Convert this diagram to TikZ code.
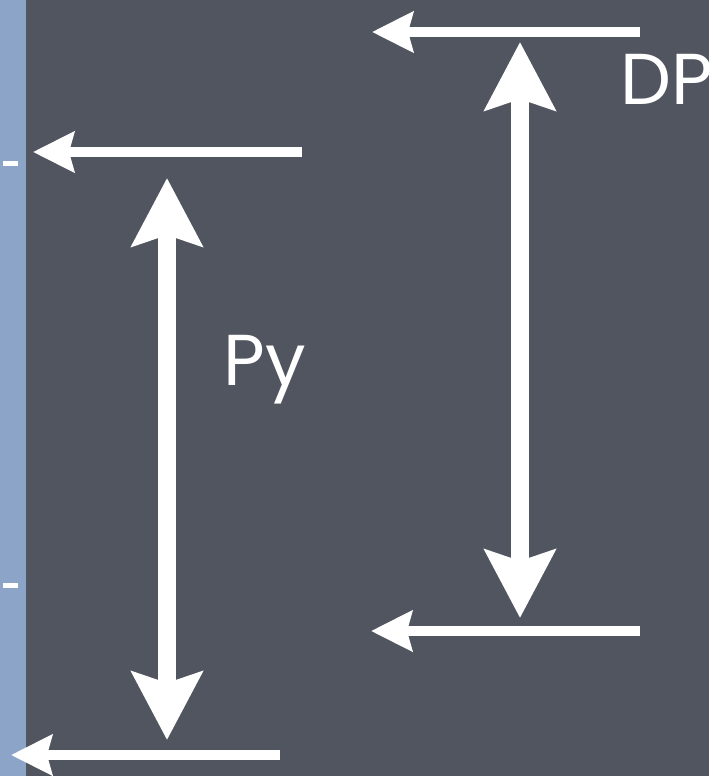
\documentclass[tikz,border=0pt]{standalone}
\usepackage{fontspec}
\setmainfont{Poppins}
\usetikzlibrary{arrows.meta}
\definecolor{board}{HTML}{50555F}
\definecolor{strip}{HTML}{8CA4C8}
\definecolor{chalk}{HTML}{FFFFFF}
\tikzset{hl/.style={chalk, line width=5.7pt, -{Stealth[length=0.82cm, width=0.8cm, inset=0.1cm]}},
  vl/.style={chalk, line width=10.2pt, {Stealth[length=1.36cm, width=1.4cm, inset=0.22cm]}-{Stealth[length=1.36cm, width=1.4cm, inset=0.22cm]}},
  lbl/.style={text=chalk, font=\fontsize{41}{48}\selectfont, anchor=base west, inner sep=0pt}}

\begin{document}
\begin{tikzpicture}[x=0.02cm, y=-0.02cm]
  \fill[board] (0,0) rectangle (709,776);
  \fill[strip] (0,0) rectangle (26,776);
  \fill[chalk] (3,161) rectangle (18,166);
  \fill[chalk] (3,583) rectangle (18,588);
  % levels
  \coordinate (dpHiR) at (640,32); \coordinate (dpHiL) at (372,32);
  \coordinate (dpLoR) at (640,631); \coordinate (dpLoL) at (371,631);
  \coordinate (pyHiR) at (302,152); \coordinate (pyHiL) at (33,152);
  \coordinate (pyLoR) at (280,755); \coordinate (pyLoL) at (11,755);
  \draw[hl] (dpHiR) -- (dpHiL);
  \draw[hl] (dpLoR) -- (dpLoL);
  \draw[hl] (pyHiR) -- (pyHiL);
  \draw[hl] (pyLoR) -- (pyLoL);
  % spans
  \coordinate (dpTop) at (520,42); \coordinate (dpBot) at (520,618);
  \coordinate (pyTop) at (167,178); \coordinate (pyBot) at (167,740);
  \draw[vl] (dpTop) -- (dpBot);
  \draw[vl] (pyTop) -- (pyBot);
  \node[lbl] (dp) at (620,105) {DP};
  \node[lbl] (py) at (223,385) {Py};
\end{tikzpicture}
\end{document}
